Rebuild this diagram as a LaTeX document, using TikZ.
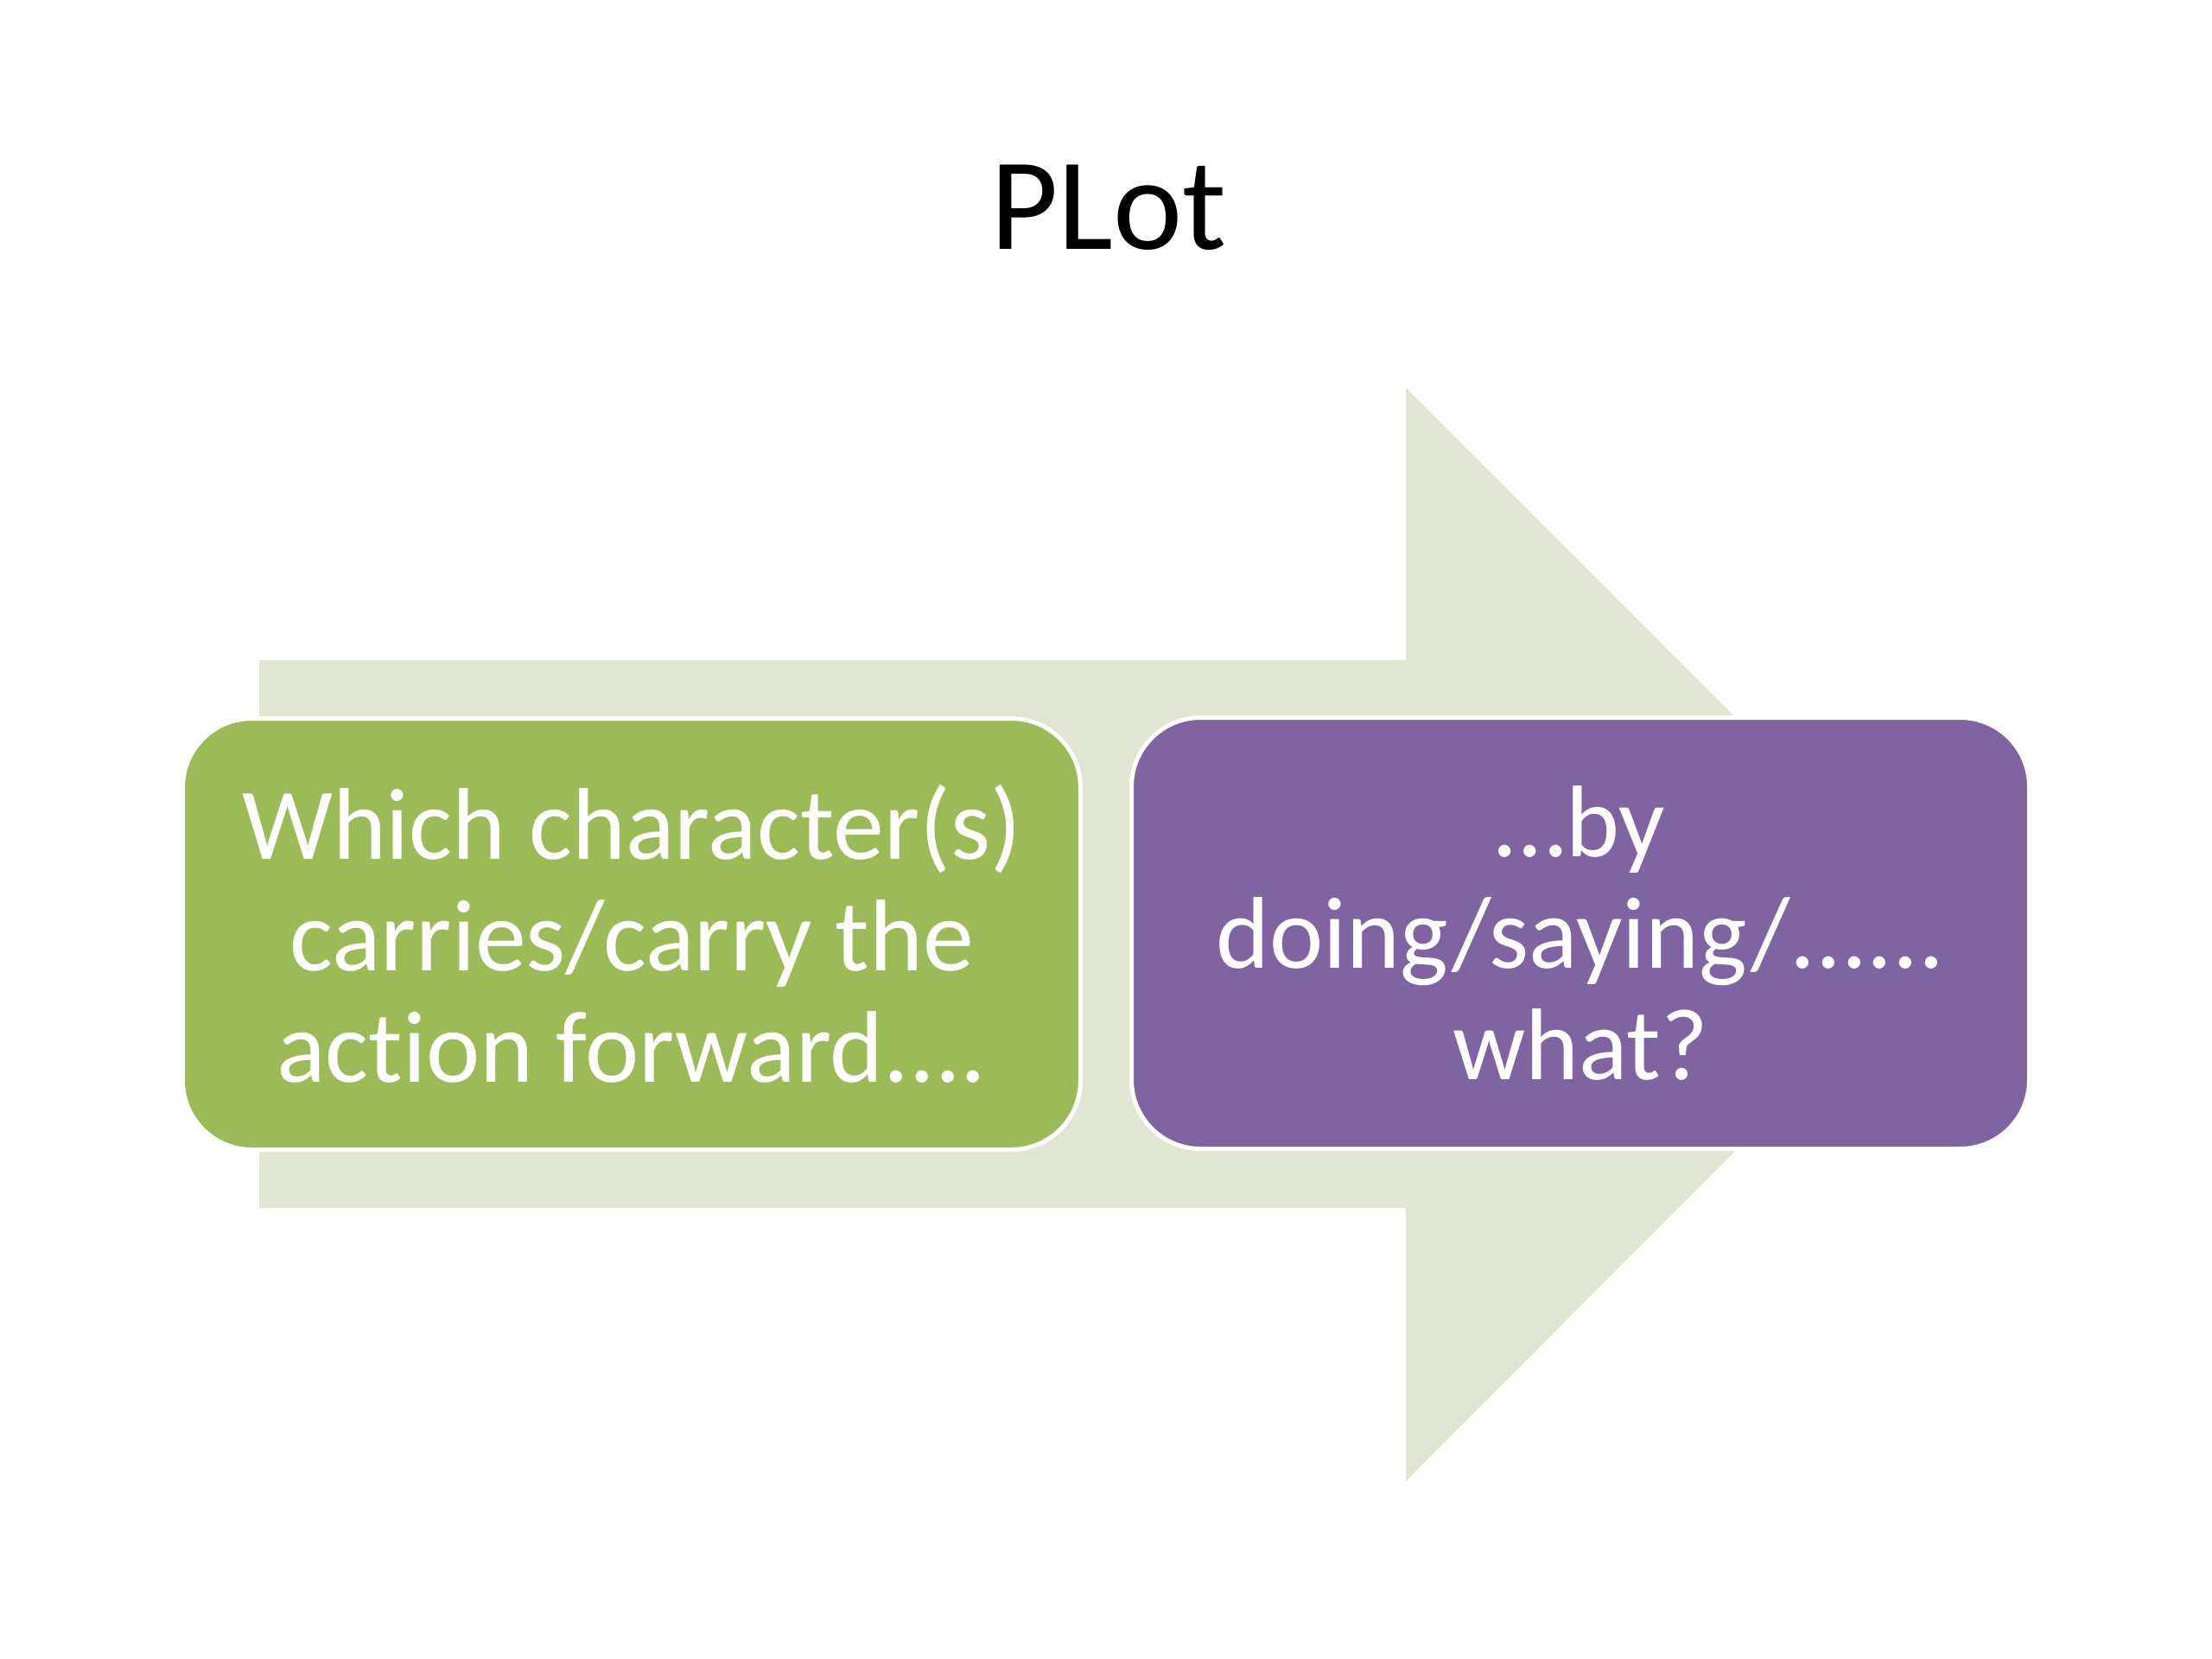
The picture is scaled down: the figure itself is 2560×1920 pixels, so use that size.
\documentclass[tikz,border=0pt]{standalone}
\usepackage{fontspec}
\setmainfont{Carlito}[Ligatures={NoCommon}]
\definecolor{boxgreen}{HTML}{9BBB59}
\definecolor{boxpurple}{HTML}{8064A2}
\definecolor{arrowtint}{HTML}{E0E6D1}
\tikzset{
  stagebox/.style={rectangle, rounded corners=80pt, draw=white, line width=5pt,
    minimum width=1039pt, minimum height=499pt, align=center, text=white,
    inner sep=0pt, font=\fontsize{118}{129}\selectfont},
  bigarrow/.style={fill=arrowtint, draw=none}
}
\begin{document}
\begin{tikzpicture}[x=1pt,y=-1pt]
\useasboundingbox[fill=white] (0,0) rectangle (2560,1920);
\node[anchor=base, font=\fontsize{152}{160}\selectfont, text=black, inner sep=0pt] (title) at (1283,288) {PLot};
\path[bigarrow] (300,764) -- (1627,764) -- (1627,449) -- (2259,1081) -- (1627,1714) -- (1627,1398) -- (300,1398) -- cycle;
\node[stagebox, fill=boxgreen] (who) at (731,1081) {Which character(s)\\carries/carry the\\action forward....};
\node[stagebox, fill=boxpurple] (how) at (1829,1080) {…by\\doing/saying/......\\what?};
\end{tikzpicture}
\end{document}
